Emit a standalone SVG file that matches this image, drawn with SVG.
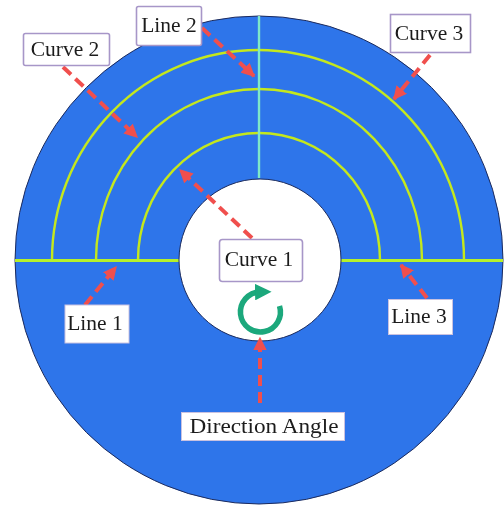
<svg xmlns="http://www.w3.org/2000/svg" width="504" height="506" viewBox="0 0 504 506">
<style>
.curve{fill:none;stroke:#c4e81e;stroke-width:2.4}
.lbl{fill:#fff;stroke:#a796c8;stroke-width:1.6}
.plain{fill:#fff;stroke:#c9c2e0;stroke-width:1}
.t{font-family:"Liberation Serif",serif;font-size:21.5px;fill:#1c1c1c;text-anchor:middle}
.arrow{fill:none;stroke:#f0504e;stroke-width:4;stroke-dasharray:11 6}
</style>
<defs>
<marker id="ah" viewBox="0 0 10 10" refX="9" refY="5" markerWidth="3.4" markerHeight="3.4" orient="auto"><path d="M0 0L10 5L0 10Z" fill="#f0504e"/></marker>
<marker id="gh" viewBox="0 0 10 10" refX="3" refY="5" markerWidth="3" markerHeight="3" orient="auto"><path d="M0 0L10 5L0 10Z" fill="#1aa87c"/></marker>
<filter id="soft" x="-5%" y="-5%" width="110%" height="110%"><feGaussianBlur stdDeviation="0.55"/></filter>
<filter id="softer" x="-5%" y="-5%" width="110%" height="110%"><feGaussianBlur stdDeviation="0.4"/></filter>
</defs>
<rect width="504" height="506" fill="#fff"/>
<g filter="url(#soft)">
<g id="disc">
<circle cx="259" cy="260" r="244" fill="#2f74ea" stroke="#1a2a5c" stroke-width="1"/>
<path class="curve" d="M52 260A206 210 0 0 1 464 260M96 260A163 171 0 0 1 422 260M138 260A121 127 0 0 1 380 260"/>
<path d="M15 260.500H180M340 260.500H503" fill="none" stroke="#b6f02c" stroke-width="3"/>
<path d="M259 16V178" fill="none" stroke="#7fe8c8" stroke-width="2.4"/>
<circle cx="260" cy="260" r="81" fill="#fff" stroke="#1a2a5c" stroke-width="1"/>
</g>
<g id="connectors">
<path class="arrow" marker-end="url(#ah)" d="M63 67L137 137"/>
<path class="arrow" marker-end="url(#ah)" d="M202 28L254 76"/>
<path class="arrow" marker-end="url(#ah)" d="M430 55L394 99"/>
<path class="arrow" marker-end="url(#ah)" d="M252 238L180 170"/>
<path class="arrow" marker-end="url(#ah)" d="M85 305L116 267"/>
<path class="arrow" marker-end="url(#ah)" d="M427 298L401 265"/>
<path class="arrow" marker-end="url(#ah)" d="M260 403L260 338"/>
</g>
<g id="rotation-symbol">
<path d="M279.500 306A20 20 0 1 1 260 292" fill="none" stroke="#1aa87c" stroke-width="5.500" marker-end="url(#gh)"/>
</g>
</g>
<g filter="url(#softer)">
<g id="label-curve-2"><rect class="lbl" x="23.500" y="33.500" width="86" height="32" rx="2"/><text class="t" x="65" y="56">Curve 2</text></g>
<g id="label-line-2"><rect class="lbl" x="136.500" y="6.500" width="65" height="39" rx="2"/><text class="t" x="169" y="32">Line 2</text></g>
<g id="label-curve-3"><rect class="lbl" x="390.500" y="14.500" width="80" height="38"/><text class="t" x="429" y="40">Curve 3</text></g>
<g id="label-curve-1"><rect class="lbl" x="219.500" y="239.500" width="83" height="42" rx="3"/><text class="t" x="259" y="266">Curve 1</text></g>
<g id="label-line-1"><rect class="plain" x="65" y="305" width="64" height="38"/><text class="t" x="95" y="330">Line 1</text></g>
<g id="label-line-3"><rect class="plain" x="388.500" y="299.500" width="64" height="35"/><text class="t" x="419" y="323">Line 3</text></g>
<g id="label-direction-angle"><rect class="plain" x="181.500" y="412.500" width="163" height="28"/><text class="t" x="264" y="433" textLength="149" lengthAdjust="spacingAndGlyphs">Direction Angle</text></g>
</g>
</svg>
